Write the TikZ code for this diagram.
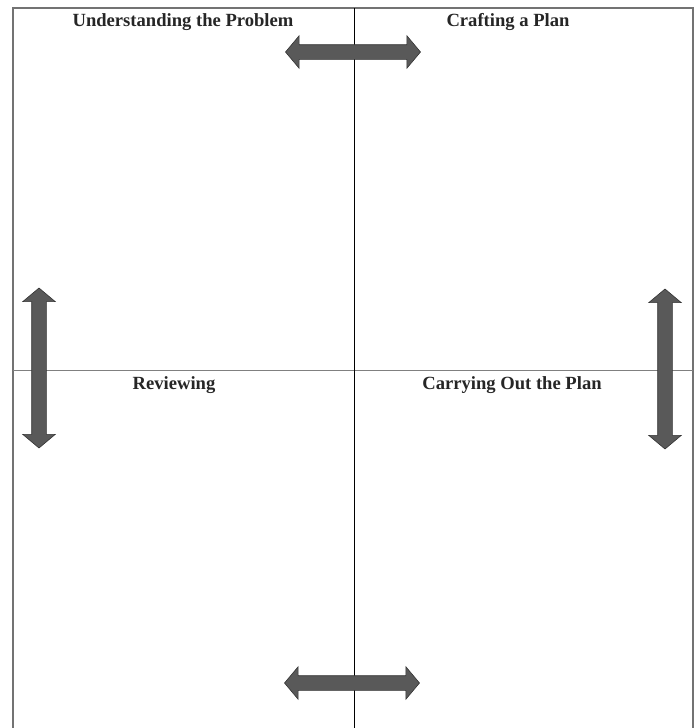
\documentclass[tikz,border=0pt]{standalone}
\usepackage{fontspec}
\setmainfont{Liberation Serif}
\usetikzlibrary{shapes.arrows}
\tikzset{
  quad_lbl/.style = {font=\fontsize{18.6}{20}\selectfont\bfseries, text=black!85, inner sep=0pt, anchor=base},
  arw/.style = {double arrow, draw=black!80, fill=black!65, line width=0.6pt, inner sep=7pt, double arrow head extend=9pt, double arrow tip angle=100},
  arw_h/.style = {arw, minimum height=135pt},
  arw_v/.style = {arw, minimum height=160pt, rotate=90},
  frame_ln/.style = {draw=black!55, line width=1.2pt},
  split_ln/.style = {draw=black!50, line width=0.6pt}
}

\begin{document}
\begin{tikzpicture}[x=1pt, y=-1pt]
\useasboundingbox (0,0) rectangle (696,728);
% frame and quadrants
\draw[frame_ln] (13,728) -- (13,8) -- (693,8) -- (693,728);
\draw[split_ln] (13,370) -- (693,370);
\draw[black, line width=0.9pt] (354,8) -- (354,728);
% labels
\node[quad_lbl] (understand) at (183,26) {Understanding the Problem};
\node[quad_lbl] (plan) at (508,26) {Crafting a Plan};
\node[quad_lbl] (review) at (174,389) {Reviewing};
\node[quad_lbl] (carry) at (512,389) {Carrying Out the Plan};
% arrows
\node[arw_h] (arr_top) at (353,52) {};
\node[arw_h] (arr_bot) at (352,683) {};
\node[arw_v] (arr_left) at (39,368) {};
\node[arw_v] (arr_right) at (665,369) {};
\end{tikzpicture}
\end{document}
